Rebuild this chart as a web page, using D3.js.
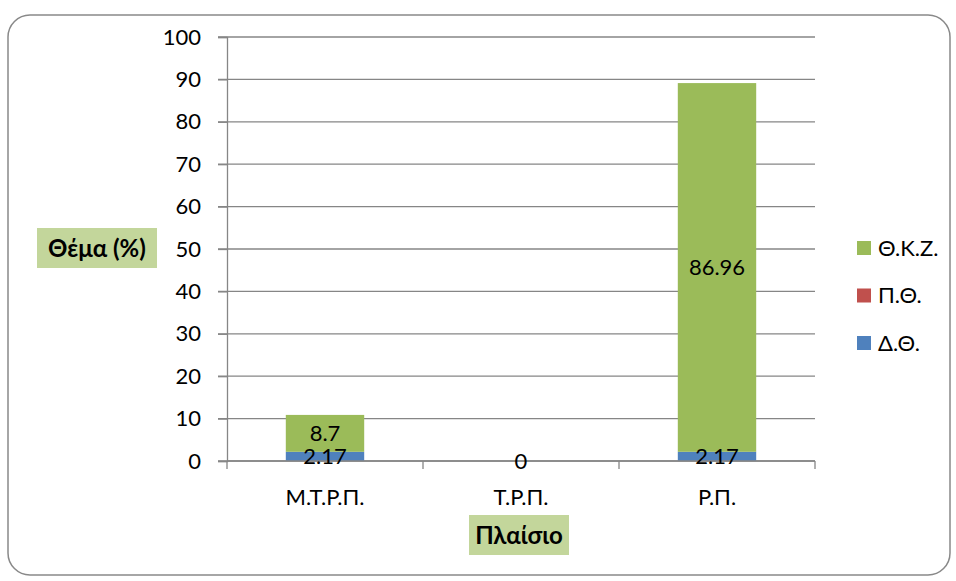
<!DOCTYPE html>
<html>
<head>
<meta charset="utf-8">
<script src="https://cdn.jsdelivr.net/npm/d3@7"></script>
<style>
  html, body { margin: 0; padding: 0; background: #fff; }
  svg { display: block; font-family: Lato, "Open Sans", sans-serif; }
</style>
</head>
<body>
<svg id="chart" width="956" height="581"></svg>
<script>
// Categories (x axis) and stacked series, bottom to top
const categories = ["Μ.Τ.Ρ.Π.", "Τ.Ρ.Π.", "Ρ.Π."];
const seriesNames = ["Δ.Θ.", "Π.Θ.", "Θ.Κ.Ζ."];
const valuesDT = [2.17, null, 2.17];
const valuesPT = [null, 0, null];
const valuesTKZ = [8.7, null, 86.96];
const seriesColors = ["#4F81BD", "#C0504D", "#9BBB59"];
const yTicks = [0, 10, 20, 30, 40, 50, 60, 70, 80, 90, 100];
const yTitle = "Θέμα (%)";
const xTitle = "Πλαίσιο";

const seriesValues = [valuesDT, valuesPT, valuesTKZ];
const rows = categories.map((c, i) => {
  const r = { cat: c };
  seriesNames.forEach((s, k) => { r[s] = seriesValues[k][i]; });
  return r;
});

const svg = d3.select("#chart");

// Outer chart frame
svg.append("rect")
  .attr("x", 8).attr("y", 15).attr("width", 942).attr("height", 560)
  .attr("rx", 22).attr("ry", 22)
  .attr("fill", "#fff").attr("stroke", "#898989").attr("stroke-width", 1.5);

const plot = { left: 227, right: 815, top: 37, bottom: 461 };

const x = d3.scaleBand().domain(categories).range([plot.left, plot.right]).paddingInner(0.6).paddingOuter(0.3);
const xOuter = d3.scaleBand().domain(categories).range([plot.left, plot.right]).padding(0);
const y = d3.scaleLinear().domain([0, 100]).range([plot.bottom, plot.top]);

// Horizontal gridlines
svg.append("g").selectAll("line").data(yTicks).join("line")
  .attr("x1", plot.left - 9).attr("x2", plot.right)
  .attr("y1", d => y(d)).attr("y2", d => y(d))
  .attr("stroke", "#868686").attr("stroke-width", 1.3);

// Y axis
const yAxis = svg.append("g").attr("transform", `translate(${plot.left},0)`)
  .call(d3.axisLeft(y).tickValues(yTicks).tickSize(9).tickPadding(17).tickFormat(d3.format("d")));
yAxis.select(".domain").attr("stroke", "#868686").attr("stroke-width", 1.3);
yAxis.selectAll(".tick line").attr("stroke", "#868686").attr("stroke-width", 1.3);
yAxis.selectAll("text").attr("font-size", 22).attr("fill", "#000").attr("font-family", "Lato, sans-serif");

// Stacked bars
const stack = d3.stack().keys(seriesNames).value((d, k) => d[k] == null ? 0 : d[k]);
const stacked = stack(rows);

const barG = svg.append("g");
stacked.forEach((layer, k) => {
  barG.append("g").attr("fill", seriesColors[k])
    .selectAll("rect").data(layer).join("rect")
    .attr("x", d => x(d.data.cat))
    .attr("width", x.bandwidth())
    .attr("y", d => y(d[1]))
    .attr("height", d => y(d[0]) - y(d[1]));
});

// X axis (baseline + category ticks)
const xAxis = svg.append("g").attr("transform", `translate(0,${plot.bottom})`);
xAxis.append("line").attr("x1", plot.left).attr("x2", plot.right)
  .attr("stroke", "#868686").attr("stroke-width", 1.3);
const tickXs = categories.map(c => xOuter(c)).concat([plot.right]);
xAxis.selectAll(".ct").data(tickXs).join("line")
  .attr("x1", d => d).attr("x2", d => d).attr("y1", 0).attr("y2", 8)
  .attr("stroke", "#868686").attr("stroke-width", 1.3);
xAxis.selectAll("text").data(categories).join("text")
  .attr("x", d => xOuter(d) + xOuter.bandwidth() / 2)
  .attr("y", 44).attr("text-anchor", "middle")
  .attr("font-size", 22).attr("fill", "#000").text(d => d);

// Data labels, centred on each segment
const labelG = svg.append("g");
stacked.forEach((layer, k) => {
  layer.forEach((d, i) => {
    const v = seriesValues[k][i];
    if (v == null) return;
    labelG.append("text")
      .attr("x", x(d.data.cat) + x.bandwidth() / 2)
      .attr("y", (y(d[0]) + y(d[1])) / 2)
      .attr("dy", "0.36em")
      .attr("text-anchor", "middle")
      .attr("font-size", 22).attr("fill", "#000")
      .text(v);
  });
});

// Axis titles on light green boxes
function titleBox(cx, cy, w, h, text) {
  svg.append("rect").attr("x", cx - w / 2).attr("y", cy - h / 2)
    .attr("width", w).attr("height", h).attr("fill", "#C3D69B");
  svg.append("text").attr("x", cx).attr("y", cy).attr("dy", "0.36em")
    .attr("text-anchor", "middle").attr("font-size", 24).attr("font-weight", "bold")
    .attr("fill", "#000").text(text);
}
titleBox(97, 248, 120, 40, yTitle);
titleBox(519, 535, 100, 40, xTitle);

// Legend (top to bottom: Θ.Κ.Ζ., Π.Θ., Δ.Θ.)
const legendItems = seriesNames.map((s, k) => ({ name: s, color: seriesColors[k] })).reverse();
const legend = svg.append("g").selectAll("g").data(legendItems).join("g")
  .attr("transform", (d, i) => `translate(857,${248 + i * 47.5})`);
legend.append("rect").attr("x", 0).attr("y", -7).attr("width", 14).attr("height", 14)
  .attr("fill", d => d.color);
legend.append("text").attr("x", 21).attr("y", 0).attr("dy", "0.36em")
  .attr("font-size", 22).attr("fill", "#000").text(d => d.name);
</script>
</body>
</html>
